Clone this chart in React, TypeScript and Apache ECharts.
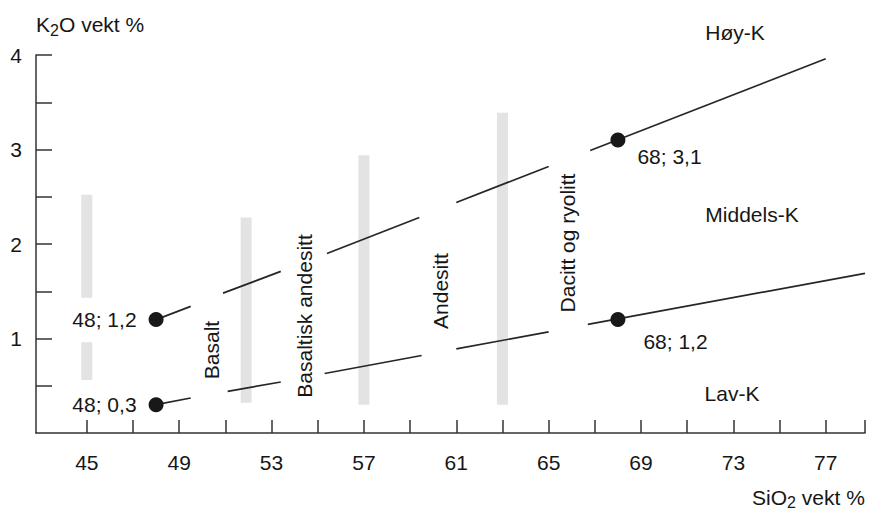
import React, { useEffect, useRef } from "react";
import * as echarts from "echarts";

// Axis ticks and labels
const xTickValues = [45, 47, 49, 51, 53, 55, 57, 59, 61, 63, 65, 67, 69, 71, 73, 75, 77, 78.7];
const xLabelValues = [45, 49, 53, 57, 61, 65, 69, 73, 77];
const yTickValues = [0.5, 1, 1.5, 2, 2.5, 3, 3.5, 4];
const yLabelValues = [1, 2, 3, 4];

// Boundary line between Middels-K and Høy-K (dashed by gaps)
const upperSegments: number[][][] = [
  [[48, 1.2], [49.5, 1.34]],
  [[50.9, 1.48], [53.4, 1.71]],
  [[55.4, 1.9], [59.4, 2.28]],
  [[61.0, 2.44], [65.0, 2.82]],
  [[66.8, 2.99], [77, 3.96]],
];

// Boundary line between Lav-K and Middels-K
const lowerSegments: number[][][] = [
  [[48, 0.3], [49.5, 0.37]],
  [[51.1, 0.44], [53.4, 0.54]],
  [[55.3, 0.63], [59.5, 0.82]],
  [[61.0, 0.89], [65.0, 1.07]],
  [[66.7, 1.15], [78.7, 1.69]],
];

// Grey vertical range bars: [SiO2, K2O low, K2O high]
const rangeBars: number[][] = [
  [45, 1.43, 2.52],
  [45, 0.56, 0.96],
  [51.9, 0.32, 2.28],
  [57, 0.3, 2.94],
  [63, 0.3, 3.39],
];

// Marked points
const points: number[][] = [
  [48, 1.2],
  [48, 0.3],
  [68, 3.1],
  [68, 1.2],
];
const pointLabels = ["48; 1,2", "48; 0,3", "68; 3,1", "68; 1,2"];

// Rock names (rotated)
const rockNames = ["Basalt", "Basaltisk andesitt", "Andesitt", "Dacitt og ryolitt"];
// Zone names
const zoneNames = ["Høy-K", "Middels-K", "Lav-K"];
// Axis titles, split around the subscript
const yTitleParts = ["K", "2", "O vekt %"];
const xTitleParts = ["SiO", "2", " vekt %"];

const FONT = "'Liberation Sans', Arial, Helvetica, sans-serif";
const TXT = "#161616";

export default function App() {
  const ref = useRef<HTMLDivElement>(null);

  useEffect(() => {
    if (!ref.current) return;
    const chart = echarts.init(ref.current, undefined, { renderer: "svg" });

    const segSeries = (segs: number[][][]) =>
      segs.map((s) => ({
        type: "line",
        data: s,
        symbol: "none",
        silent: true,
        z: 3,
        lineStyle: { color: "#262626", width: 1.7 },
      }));

    const barSeries = rangeBars.map((b) => ({
      type: "line",
      data: [
        [b[0], b[1]],
        [b[0], b[2]],
      ],
      symbol: "none",
      silent: true,
      z: 1,
      lineStyle: { color: "#e3e3e3", width: 11, cap: "butt" },
    }));

    const labelCfg = [
      { position: "left", distance: 12, offset: [0, 0] },
      { position: "left", distance: 12, offset: [0, 0] },
      { position: "right", distance: 12, offset: [0, 16] },
      { position: "right", distance: 18, offset: [0, 22] },
    ];

    const rockPos = [
      [211, 350],
      [304, 316],
      [440, 291],
      [567, 243],
    ];
    const zonePos = [
      [735, 32],
      [752, 214],
      [732, 393],
    ];

    const txt = (t: string, x: number, y: number, size: number) => ({
      type: "text",
      x,
      y,
      style: { text: t, fontSize: size, fontFamily: FONT, fill: TXT, align: "left", verticalAlign: "middle" },
    });

    chart.setOption({
      animation: false,
      grid: { left: 36, right: 7, top: 55, bottom: 77 },
      xAxis: {
        type: "value",
        min: 42.8,
        max: 78.7,
        splitLine: { show: false },
        axisLine: { lineStyle: { color: "#333", width: 1.5 } },
        axisTick: {
          inside: true,
          length: 13,
          customValues: xTickValues,
          lineStyle: { color: "#333", width: 1.5 },
        },
        axisLabel: {
          customValues: xLabelValues,
          margin: 19,
          fontSize: 21,
          color: TXT,
          fontFamily: FONT,
        },
      },
      yAxis: {
        type: "value",
        min: 0,
        max: 4,
        splitLine: { show: false },
        axisLine: { show: true, lineStyle: { color: "#333", width: 1.5 } },
        axisTick: {
          show: true,
          inside: true,
          length: 16,
          customValues: yTickValues,
          lineStyle: { color: "#333", width: 1.5 },
        },
        axisLabel: {
          customValues: yLabelValues,
          margin: 14,
          fontSize: 21,
          color: TXT,
          fontFamily: FONT,
          padding: [9, 0, 0, 0],
        },
      },
      series: [
        ...barSeries,
        ...segSeries(upperSegments),
        ...segSeries(lowerSegments),
        {
          type: "scatter",
          z: 5,
          symbolSize: 15,
          itemStyle: { color: "#181818", opacity: 1 },
          data: points.map((p, i) => ({
            value: p,
            label: {
              show: true,
              formatter: pointLabels[i],
              position: labelCfg[i].position,
              distance: labelCfg[i].distance,
              offset: labelCfg[i].offset,
              fontSize: 21,
              color: TXT,
              opacity: 1,
              textBorderWidth: 0,
              fontFamily: FONT,
            },
          })),
        },
      ],
      graphic: [
        txt(yTitleParts[0], 36, 24, 21),
        txt(yTitleParts[1], 50, 30, 16),
        txt(yTitleParts[2], 59, 24, 21),
        txt(xTitleParts[0], 752, 497, 21),
        txt(xTitleParts[1], 787, 502, 16),
        txt(xTitleParts[2], 796, 497, 21),
        ...rockNames.map((t, i) => ({
          type: "text",
          x: rockPos[i][0],
          y: rockPos[i][1],
          rotation: Math.PI / 2,
          style: {
            text: t,
            fontSize: 21,
            fontFamily: FONT,
            fill: TXT,
            align: "center",
            verticalAlign: "middle",
          },
        })),
        ...zoneNames.map((t, i) => ({
          type: "text",
          x: zonePos[i][0],
          y: zonePos[i][1],
          style: {
            text: t,
            fontSize: 21,
            fontFamily: FONT,
            fill: TXT,
            align: "center",
            verticalAlign: "middle",
          },
        })),
      ],
    });

    return () => chart.dispose();
  }, []);

  return <div ref={ref} style={{ width: 872, height: 510, position: "absolute", left: 0, top: 0 }} />;
}
